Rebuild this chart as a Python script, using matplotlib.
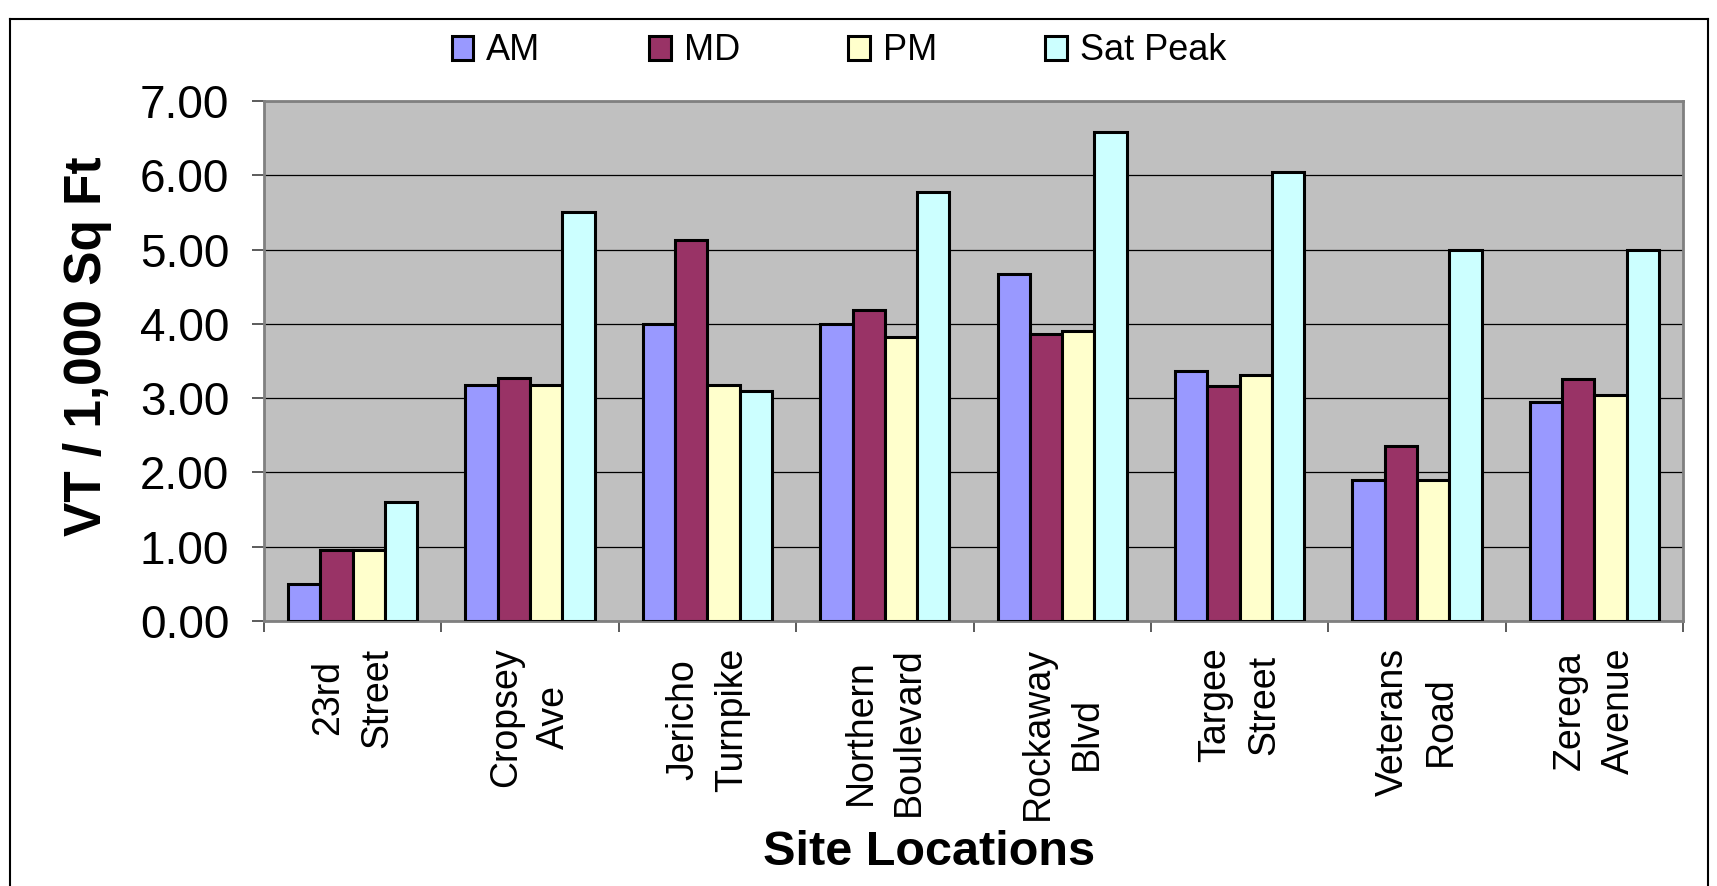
import matplotlib
matplotlib.use("Agg")
import matplotlib.pyplot as plt
from matplotlib.patches import Patch
from matplotlib.lines import Line2D
import numpy as np

plt.rcParams['font.family'] = ['Liberation Sans', 'DejaVu Sans']

sites = ['23rd\nStreet', 'Cropsey\nAve', 'Jericho\nTurnpike', 'Northern\nBoulevard',
         'Rockaway\nBlvd', 'Targee\nStreet', 'Veterans\nRoad', 'Zerega\nAvenue']
am = [0.50, 3.18, 4.00, 4.00, 4.67, 3.36, 1.90, 2.95]
md = [0.95, 3.27, 5.13, 4.18, 3.86, 3.17, 2.35, 3.26]
pm = [0.95, 3.18, 3.18, 3.82, 3.90, 3.31, 1.90, 3.04]
sat_peak = [1.60, 5.50, 3.10, 5.78, 6.58, 6.04, 5.00, 5.00]

series = [('AM', am, '#9999FF'), ('MD', md, '#993366'),
          ('PM', pm, '#FFFFCC'), ('Sat Peak', sat_peak, '#CCFFFF')]

W, H = 1717, 886
fig = plt.figure(figsize=(W / 100, H / 100), dpi=100)
ax = fig.add_axes([264 / W, 1 - 621 / H, (1683 - 264) / W, (621 - 101) / H])
ax.set_facecolor('#C0C0C0')

x = np.arange(len(sites))
bw = 0.182
for i, (name, vals, col) in enumerate(series):
    ax.bar(x + (i - 1.5) * bw, vals, bw, color=col, edgecolor='black',
           linewidth=2.2, zorder=3, label=name)

ax.set_xlim(-0.5, len(sites) - 0.5)
ax.set_ylim(0, 7)
ax.set_yticks(np.arange(0, 7.01, 1))
ax.set_yticklabels(['%.2f' % v for v in np.arange(0, 7.01, 1)])
ax.yaxis.grid(True, color='black', linewidth=0.9, zorder=1)
ax.set_axisbelow(True)

# site names centred under each group, tick marks between groups
ax.set_xticks(x)
ax.set_xticklabels(sites, rotation=90, va='top', ha='center',
                   multialignment='center', linespacing=1.45, fontsize=27)
ax.set_xticks(np.arange(-0.5, len(sites)), minor=True)
ax.tick_params(axis='x', which='major', length=0, pad=19)
ax.tick_params(axis='x', which='minor', length=8, width=1.2, color='#404040')
ax.tick_params(axis='y', length=9, width=1.2, color='#404040', pad=16, labelsize=33)

for s in ax.spines.values():
    s.set_color('#808080')
    s.set_linewidth(2)

fig.text(88 / W, 1 - 346 / H, 'VT / 1,000 Sq Ft', rotation=90, fontsize=37,
         fontweight='bold', ha='center', va='center')
fig.text(929 / W, 1 - 865 / H, 'Site Locations', fontsize=35, fontweight='bold',
         ha='center', va='baseline')

handles = [Patch(facecolor=c, edgecolor='black', linewidth=2.2, label=n)
           for n, _, c in series]
fig.legend(handles=handles, loc='center', bbox_to_anchor=(839 / W, 1 - 51 / H),
           ncol=4, frameon=False, fontsize=26, handlelength=0.6, handleheight=0.64,
           handletextpad=0.36, columnspacing=3.0)

# outer frame (open at the bottom)
fig.add_artist(Line2D([10 / W, 10 / W], [0, 1 - 19 / H], color='black', lw=1.5))
fig.add_artist(Line2D([10 / W, 1708 / W], [1 - 19 / H, 1 - 19 / H], color='black', lw=1.5))
fig.add_artist(Line2D([1708 / W, 1708 / W], [1 - 19 / H, 0], color='black', lw=1.5))

fig.savefig('out.png', dpi=100)
